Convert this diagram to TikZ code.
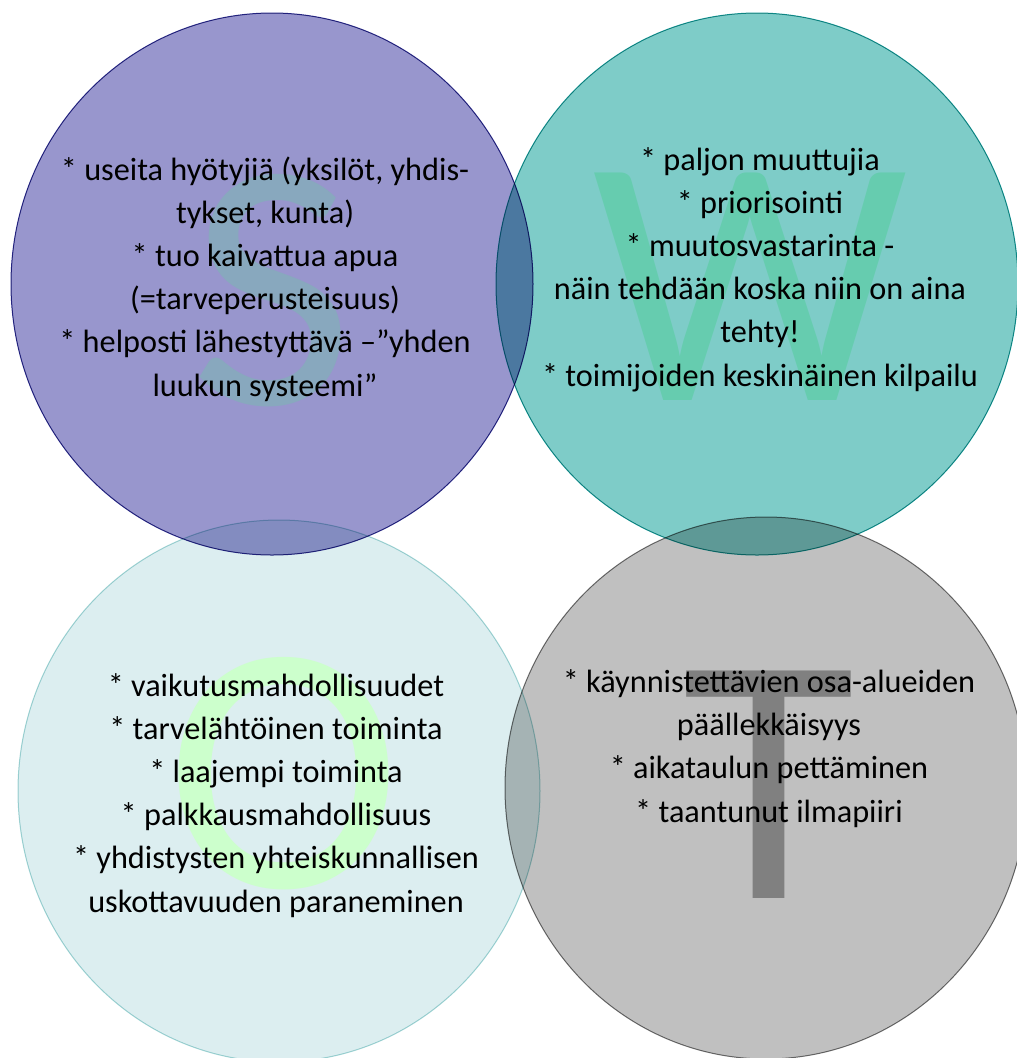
\documentclass[tikz,border=0pt]{standalone}
\usepackage{fontspec}
\setmainfont{Carlito}
\definecolor{sfill}{RGB}{152,150,205}
\definecolor{sline}{RGB}{45,45,140}
\definecolor{wfill}{RGB}{126,204,200}
\definecolor{wline}{RGB}{20,150,150}
\definecolor{ofill}{RGB}{220,238,240}
\definecolor{oline}{RGB}{165,215,215}
\definecolor{tfill}{RGB}{192,192,192}
\definecolor{tline}{RGB}{115,115,115}
\definecolor{sletter}{RGB}{136,168,190}
\definecolor{wletter}{RGB}{102,204,175}
\definecolor{oletter}{RGB}{204,255,204}
\definecolor{tletter}{RGB}{128,128,128}

\tikzset{
  bubble/.style={line width=0.75pt, blend mode=multiply},
  itemtext/.style={align=center, inner sep=0pt, anchor=base,
    font=\fontsize{24.2}{32.4}\selectfont},
  bigletter/.style={inner sep=0pt, anchor=base,
    font=\fontsize{266}{266}\selectfont}
}

\begin{document}
\begin{tikzpicture}[x=0.75pt, y=-0.75pt]
    \fill[white] (0,0) rectangle (1017,1058);
    \useasboundingbox (0,0) rectangle (1017,1058);

    % the four bubbles
    \draw[bubble, fill=sfill, draw=sline] (272,284) ellipse [x radius=261, y radius=271];
    \draw[bubble, fill=wfill, draw=wline] (757,284) ellipse [x radius=261, y radius=271];
    \draw[bubble, fill=ofill, draw=oline] (279,791) ellipse [x radius=261, y radius=271];
    \draw[bubble, fill=tfill, draw=tline] (766,788) ellipse [x radius=261, y radius=271];

    % big letters behind the text
    \node[bigletter, text=sletter] (bigS) at (272,404) {S};
    \node[bigletter, text=wletter] (bigW) at (750,400) {W};
    \node[bigletter, text=oletter] (bigO) at (284,887) {O};
    \node[bigletter, text=tletter] (bigT) at (769,898) {T};

    % strengths (anchored at the last line)
    \node[itemtext] (strengths) at (265,396) {* useita hyötyjiä (yksilöt, yhdis-\\tykset, kunta)\\* tuo kaivattua apua\\(=tarveperusteisuus)\\* helposti lähestyttävä –”yhden\\luukun systeemi”};
    % weaknesses
    \node[itemtext] (weaknesses) at (760,386) {* paljon muuttujia\\* priorisointi\\* muutosvastarinta -\\näin tehdään koska niin on aina\\tehty!\\* toimijoiden keskinäinen kilpailu};
    % opportunities
    \node[itemtext] (opportunities) at (276,912) {* vaikutusmahdollisuudet\\* tarvelähtöinen toiminta\\* laajempi toiminta\\* palkkausmahdollisuus\\* yhdistysten yhteiskunnallisen\\uskottavuuden paraneminen};
    % threats
    \node[itemtext] (threats) at (769,822) {* käynnistettävien osa-alueiden\\päällekkäisyys\\* aikataulun pettäminen\\* taantunut ilmapiiri};
\end{tikzpicture}
\end{document}
